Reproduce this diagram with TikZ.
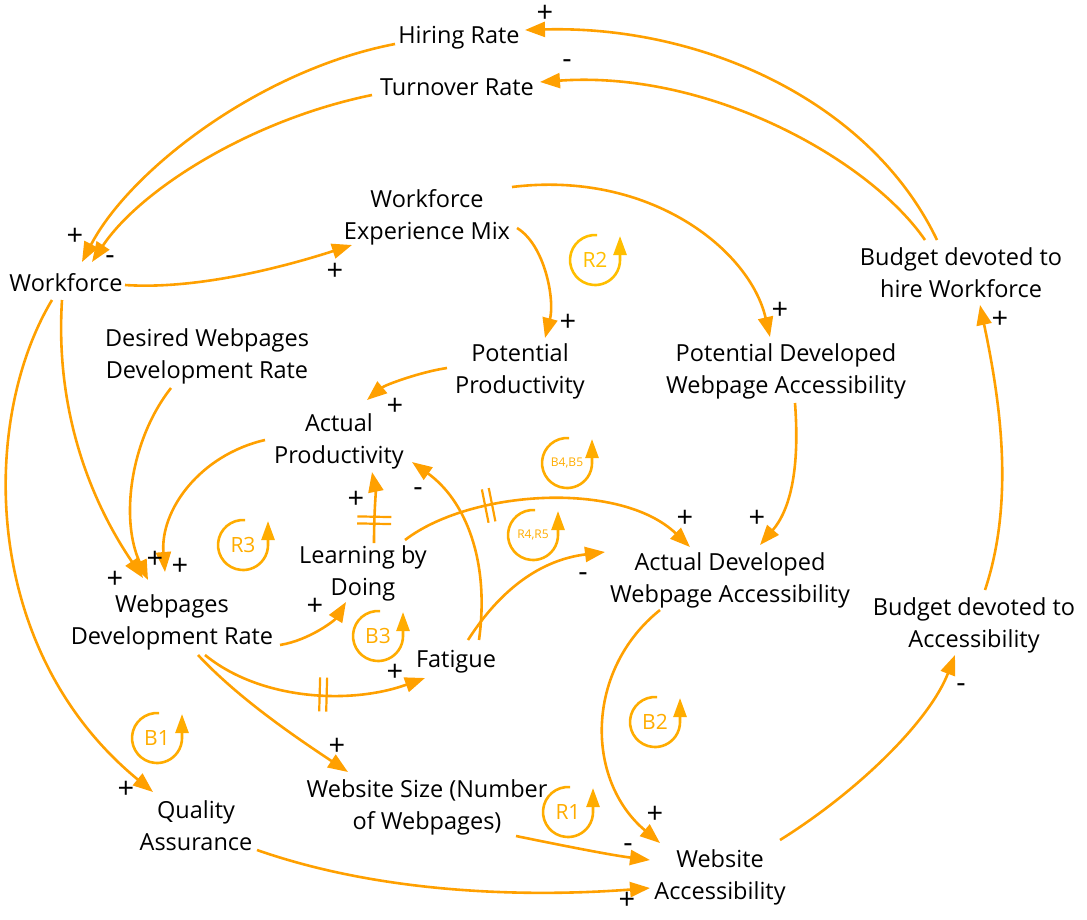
\documentclass[tikz,border=0pt]{standalone}
\usepackage{fontspec}
\setmainfont{Open Sans}
\usetikzlibrary{arrows.meta,decorations.markings}
\definecolor{cld}{RGB}{255,160,0}
\definecolor{cldloop}{RGB}{255,172,0}
\definecolor{cldR}{RGB}{255,190,0}

% loop marker: name, x, y, label, font size, colour
\newcommand\loopmarker[6]{%
  \draw[loopln, draw=#6, -{Triangle[length=19pt,width=13pt]}, #6]
    ({#2+2.2},{#3-24.9}) arc[start angle=275, end angle=0, radius=25] -- ++(0,-24);
  \node[text=#6, font=\fontsize{#5}{#5}\selectfont, inner sep=0pt] (#1) at (#2,#3) {#4};%
}

\begin{document}
\begin{tikzpicture}[x=1pt,y=-1pt,
  var/.style={align=center, font=\fontsize{23.5}{32}\selectfont, inner sep=0pt},
  link/.style={draw=cld, line width=2.6pt, -{Triangle[length=20pt,width=15pt]}, cld},
  loopln/.style={line width=2.6pt},
  sgn/.style={font=\fontsize{29}{29}\selectfont, inner sep=0pt},
  delayat/.style={postaction={decorate, decoration={markings,
      mark=at position #1 with {\draw[arrows=-, cld, line width=2.2pt] (-3.5,-17)--(-3.5,17) (3.5,-17)--(3.5,17);}}}}
]
\useasboundingbox (0,0) rectangle (1087,919);

% variables
\node[var] (hr)   at (459,38)  {Hiring Rate};
\node[var] (tr)   at (457,87)  {Turnover Rate};
\node[var] (wf)   at (66,283)  {Workforce};
\node[var] (wem)  at (427,217) {Workforce\\Experience Mix};
\node[var] (bhw)  at (961,273) {Budget devoted to\\hire Workforce};
\node[var] (dwdr) at (207,356) {Desired Webpages\\Development Rate};
\node[var] (pp)   at (520,371) {Potential\\Productivity};
\node[var] (pdwa) at (786,371) {Potential Developed\\Webpage Accessibility};
\node[var] (ap)   at (339,441) {Actual\\Productivity};
\node[var] (lbd)  at (363,573) {Learning by\\Doing};
\node[var] (adwa) at (730,580) {Actual Developed\\Webpage Accessibility};
\node[var] (bda)  at (974,625) {Budget devoted to\\Accessibility};
\node[var] (wdr)  at (172,622) {Webpages\\Development Rate};
\node[var] (fat)  at (456,662) {Fatigue};
\node[var] (qa)   at (196,826) {Quality\\Assurance};
\node[var] (wss)  at (427,807) {Website Size (Number\\of Webpages)};
\node[var] (wa)   at (720,877) {Website\\Accessibility};

% causal links
\draw[link] ([shift={(-24,-33)}]bhw.center) .. controls (870,100) and (700,25) .. ([shift={(66,-8)}]hr.center);
\draw[link] ([shift={(-36,-33)}]bhw.center) .. controls (870,160) and (710,70) .. ([shift={(83,-5)}]tr.center);
\draw[link] ([shift={(-64,6)}]hr.center) .. controls (260,70) and (130,170) .. ([shift={(16,-21)}]wf.center);
\draw[link] ([shift={(-85,8)}]tr.center) .. controls (250,120) and (140,190) .. ([shift={(26,-21)}]wf.center);
\draw[link] ([shift={(59,2)}]wf.center) .. controls (200,290) and (290,265) .. ([shift={(-75,28)}]wem.center);
\draw[link] ([shift={(90,11)}]wem.center) .. controls (545,245) and (555,300) .. ([shift={(25,-33)}]pp.center);
\draw[link] ([shift={(85,-30)}]wem.center) .. controls (650,170) and (750,250) .. ([shift={(-16,-34)}]pdwa.center);
\draw[link] ([shift={(-73,-3)}]pp.center) .. controls (420,372) and (385,385) .. ([shift={(28,-41)}]ap.center);
\draw[link] ([shift={(9,32)}]pdwa.center) .. controls (800,470) and (790,510) .. ([shift={(30,-35)}]adwa.center);
\draw[link] ([shift={(-74,-1)}]ap.center) .. controls (200,455) and (160,510) .. ([shift={(-7,-50)}]wdr.center);
\draw[link] ([shift={(-36,32)}]dwdr.center) .. controls (130,440) and (120,520) .. ([shift={(-24,-42)}]wdr.center);
\draw[link] ([shift={(-4,17)}]wf.center) .. controls (55,410) and (90,500) .. ([shift={(-29,-44)}]wdr.center);
\draw[link] ([shift={(-14,17)}]wf.center) .. controls (-20,420) and (-20,650) .. ([shift={(-43,-34)}]qa.center);
\draw[link] ([shift={(108,23)}]wdr.center) .. controls (310,640) and (335,620) .. ([shift={(-17,29)}]lbd.center);
\draw[link, delayat=0.32] ([shift={(11,-30)}]lbd.center) .. controls (374,512) and (376,492) .. ([shift={(33,31)}]ap.center);
\draw[link] ([shift={(23,-22)}]fat.center) .. controls (490,560) and (465,500) .. ([shift={(73,21)}]ap.center);
\draw[link, delayat=0.3] ([shift={(42,-33)}]lbd.center) .. controls (470,490) and (620,480) .. ([shift={(-40,-33)}]adwa.center);
\draw[link] ([shift={(12,-22)}]fat.center) .. controls (500,590) and (540,560) .. ([shift={(-125,-28)}]adwa.center);
\draw[link, delayat=0.55] ([shift={(33,33)}]wdr.center) .. controls (260,700) and (350,705) .. ([shift={(-31,16)}]fat.center);
\draw[link] ([shift={(26,33)}]wdr.center) .. controls (240,700) and (300,740) .. ([shift={(-79,-35)}]wss.center);
\draw[link] ([shift={(-70,30)}]adwa.center) .. controls (585,670) and (585,780) .. ([shift={(-60,-34)}]wa.center);
\draw[link] ([shift={(89,29)}]wss.center) .. controls (560,845) and (610,855) .. ([shift={(-70,-17)}]wa.center);
\draw[link] ([shift={(61,24)}]qa.center) .. controls (400,900) and (560,895) .. ([shift={(-70,11)}]wa.center);
\draw[link] ([shift={(60,-37)}]wa.center) .. controls (860,790) and (930,720) .. ([shift={(-19,30)}]bda.center);
\draw[link] ([shift={(11,-35)}]bda.center) .. controls (1015,500) and (1000,400) .. ([shift={(19,32)}]bhw.center);

% polarities
\node[sgn] (s1)  at (545,14)  {+};
\node[sgn] (s2)  at (567,64)  {-};
\node[sgn] (s3)  at (75,237)  {+};
\node[sgn] (s4)  at (110,260) {-};
\node[sgn] (s5)  at (335,272) {+};
\node[sgn] (s6)  at (568,323) {+};
\node[sgn] (s7)  at (780,311) {+};
\node[sgn] (s8)  at (395,407) {+};
\node[sgn] (s9)  at (757,519) {+};
\node[sgn] (s10) at (180,567) {+};
\node[sgn] (s11) at (155,560) {+};
\node[sgn] (s12) at (115,580) {+};
\node[sgn] (s13) at (126,790) {+};
\node[sgn] (s14) at (315,607) {+};
\node[sgn] (s15) at (356,500) {+};
\node[sgn] (s16) at (418,492) {-};
\node[sgn] (s17) at (685,519) {+};
\node[sgn] (s18) at (583,577) {-};
\node[sgn] (s19) at (395,673) {+};
\node[sgn] (s20) at (337,747) {+};
\node[sgn] (s21) at (655,815) {+};
\node[sgn] (s22) at (628,848) {-};
\node[sgn] (s23) at (627,901) {+};
\node[sgn] (s24) at (961,688) {-};
\node[sgn] (s25) at (1000,320) {+};

% loop markers
\loopmarker{lR2}{595}{260}{R2}{21}{cldR}
\loopmarker{lB45}{567}{463}{B4,B5}{12}{cldloop}
\loopmarker{lR45}{533}{535}{R4,R5}{12}{cldloop}
\loopmarker{lR3}{243}{545}{R3}{21}{cldloop}
\loopmarker{lB3}{378}{636}{B3}{21}{cldloop}
\loopmarker{lB1}{157}{738}{B1}{21}{cldloop}
\loopmarker{lB2}{655}{722}{B2}{21}{cldloop}
\loopmarker{lR1}{568}{812}{R1}{21}{cldloop}
\end{tikzpicture}
\end{document}
